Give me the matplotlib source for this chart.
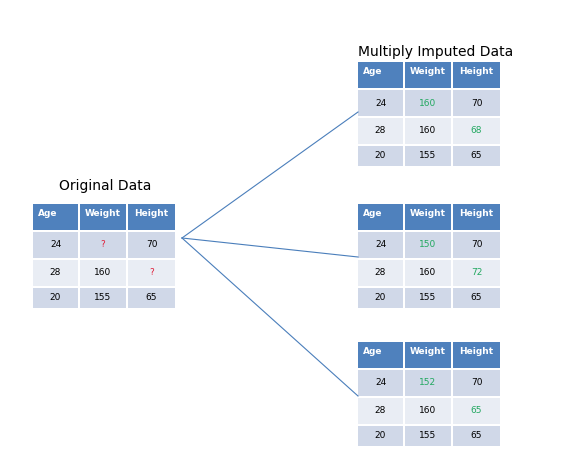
import matplotlib.pyplot as plt
from matplotlib.patches import Rectangle

# table contents
headers = ["Age", "Weight", "Height"]
original = [["24", "?", "70"], ["28", "160", "?"], ["20", "155", "65"]]
imputed = [
    [["24", "160", "70"], ["28", "160", "68"], ["20", "155", "65"]],
    [["24", "150", "70"], ["28", "160", "72"], ["20", "155", "65"]],
    [["24", "152", "70"], ["28", "160", "65"], ["20", "155", "65"]],
]
# which cells were missing (row, col)
missing = [(0, 1), (1, 2)]

HEAD = "#4F81BD"
DARK = "#D0D8E8"
LIGHT = "#E9EDF4"

fig = plt.figure(figsize=(5.62, 4.77), dpi=100)
ax = fig.add_axes([0, 0, 1, 1])
ax.set_xlim(0, 562)
ax.set_ylim(477, 0)
ax.axis("off")

col_x = [0, 47, 95]
col_w = [45, 46, 47]
row_h = [26, 26, 26, 20]


def draw_table(x0, y0, rows, hl_color):
    y = y0
    for r in range(4):
        h = row_h[r]
        for c in range(3):
            fc = HEAD if r == 0 else (LIGHT if r == 2 else DARK)
            ax.add_patch(Rectangle((x0 + col_x[c], y), col_w[c], h, fc=fc, ec="none"))
            if r == 0:
                if c == 0:
                    ax.text(x0 + col_x[c] + 5, y + 9, headers[c], color="white",
                            fontsize=6.5, fontweight="bold", ha="left", va="center")
                else:
                    ax.text(x0 + col_x[c] + col_w[c] / 2, y + 9, headers[c], color="white",
                            fontsize=6.5, fontweight="bold", ha="center", va="center")
            else:
                color = hl_color if (r - 1, c) in missing else "black"
                ax.text(x0 + col_x[c] + col_w[c] / 2, y + h / 2 - 1, rows[r - 1][c],
                        color=color, fontsize=6.5, ha="center", va="center")
        y += h + 2


draw_table(33, 205, original, "#E0203A")
ax.text(105, 186, "Original Data", fontsize=10, ha="center", va="center")

tops = [63, 205, 343]
for t, data in zip(tops, imputed):
    draw_table(358, t, data, "#22A860")
ax.text(436, 52, "Multiply Imputed Data", fontsize=10, ha="center", va="center")

# connector lines
for end in [(358, 113), (358, 258), (358, 397)]:
    ax.plot([182, end[0]], [239, end[1]], color="#4A7EBB", lw=0.8)

fig.savefig("out.png", dpi=100)
